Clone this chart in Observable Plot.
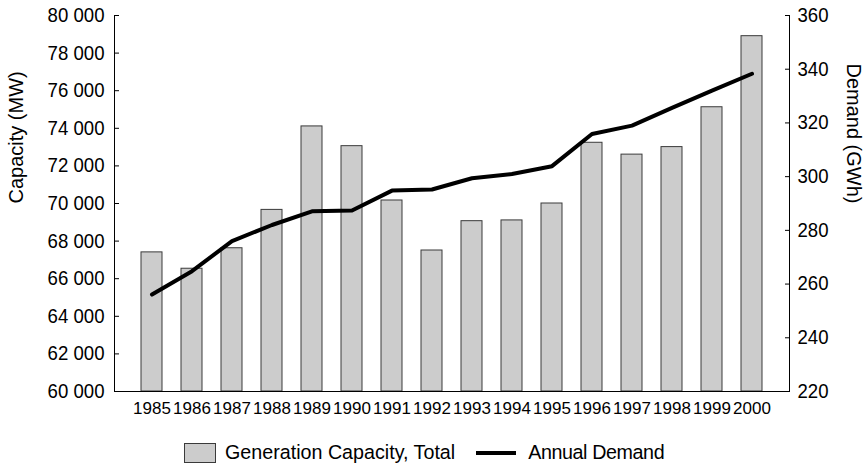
<!DOCTYPE html>
<html><head><meta charset="utf-8">
<script src="https://cdn.jsdelivr.net/npm/d3@7"></script>
<script src="https://cdn.jsdelivr.net/npm/@observablehq/plot@0.6"></script>
<style>
body{margin:0;background:#fff;}
#legend{font-family:"Liberation Sans",Arial,sans-serif;font-size:19.7px;color:#000;display:flex;align-items:center;padding-left:184px;height:24px;margin-top:15.5px;}
#legend .sw{box-sizing:border-box;width:32px;height:20px;background:#cccccc;border:1px solid #3a3a3a;margin-right:9px;}
#legend .ln{width:40px;height:4px;background:#000;margin-left:21px;margin-right:12px;}
#legend .t2{letter-spacing:-0.4px;}
</style></head>
<body>
<div id="chart"></div>
<div id="legend"><span class="sw"></span><span>Generation Capacity, Total</span><span class="ln"></span><span class="t2">Annual Demand</span></div>
<script>
const years = ["1985","1986","1987","1988","1989","1990","1991","1992","1993","1994","1995","1996","1997","1998","1999","2000"];
const capacity = [67400,66530,67620,69660,74100,73050,70160,67500,69060,69100,70000,73230,72600,73000,75120,78900];
const demand = [256.1,264.8,276,282,287.1,287.4,294.8,295.2,299.4,301,303.9,315.9,319,325.6,332,338.3];
const capTicks = [60000,62000,64000,66000,68000,70000,72000,74000,76000,78000,80000];
const demTicks = [220,240,260,280,300,320,340,360];

const capMin = 60000, capMax = 80000, demMin = 220, demMax = 360;
const toCap = d => capMin + (d - demMin) * (capMax - capMin) / (demMax - demMin);
const fromCap = c => demMin + (c - capMin) * (demMax - demMin) / (capMax - capMin);

const rows = years.map((y, i) => ({year: y, cap: capacity[i], dem: toCap(demand[i])}));
const fmt = v => d3.format(",")(v).replace(/,/g, " ");
const font = "'Liberation Sans',Arial,sans-serif";
const demPos = demTicks.map(toCap);

const plot = Plot.plot({
  width: 864, height: 425,
  marginTop: 15, marginBottom: 34, marginLeft: 114, marginRight: 75,
  style: {fontFamily: font, fontSize: "20px", color: "#000", background: "#fff"},
  x: {domain: years, padding: 0.48, align: 0.5},
  y: {domain: [capMin, capMax]},
  marks: [
    Plot.barY(rows, {x: "year", y1: capMin, y2: "cap", fill: "#cccccc", stroke: "#3a3a3a", strokeWidth: 1}),
    Plot.line(rows, {x: "year", y: "dem", stroke: "#000", strokeWidth: 4}),
    Plot.axisX({tickSize: 0, tickPadding: 10, fontSize: 17, label: null}),
    Plot.axisY(capTicks, {anchor: "left", tickSize: -5, tickFormat: () => "", label: null}),
    Plot.axisY(capTicks, {anchor: "left", tickSize: 0, tickPadding: 10, tickFormat: fmt, fontSize: 20, label: null}),
    Plot.axisY(demPos, {anchor: "right", tickSize: -5, tickFormat: () => "", label: null}),
    Plot.axisY(demPos, {anchor: "right", tickSize: 0, tickPadding: 8, tickFormat: v => Math.round(fromCap(v)), fontSize: 20, label: null}),
    Plot.text(["Capacity (MW)"], {frameAnchor: "left", rotate: -90, dx: -98, fontSize: 20}),
    Plot.text(["Demand (GWh)"], {frameAnchor: "right", rotate: 90, dx: 64, fontSize: 20}),
    Plot.frame({anchor: "left", stroke: "#000"}),
    Plot.frame({anchor: "right", stroke: "#000"}),
    Plot.frame({anchor: "bottom", stroke: "#000"})
  ]
});
document.getElementById("chart").appendChild(plot);
function squeeze(sel, f) {
  plot.querySelectorAll(sel).forEach(t => {
    const len = t.getComputedTextLength();
    if (len > 0) {
      t.setAttribute("textLength", (len * f).toFixed(1));
      t.setAttribute("lengthAdjust", "spacingAndGlyphs");
    }
  });
}
squeeze('[aria-label="y-axis tick label"] text', 0.93);
</script>
</body></html>
